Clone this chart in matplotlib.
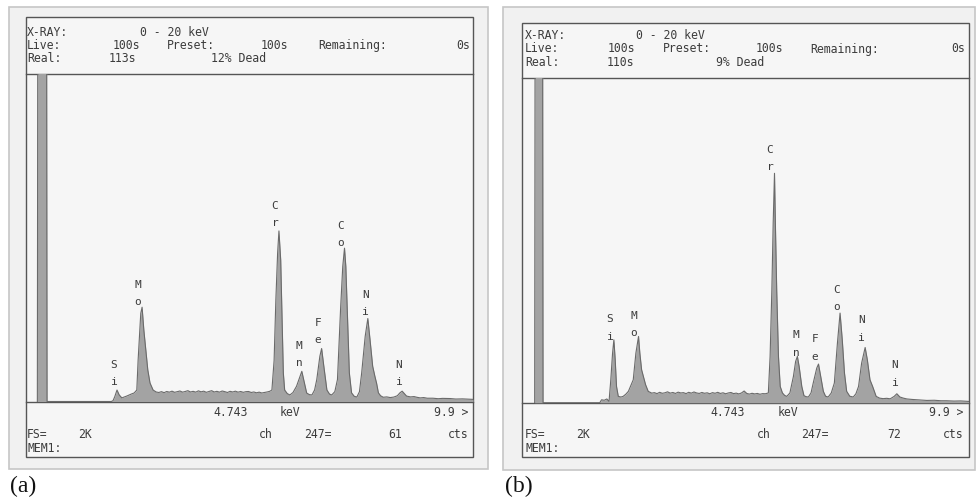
import matplotlib
matplotlib.use("Agg")
import matplotlib.pyplot as plt
from matplotlib.patches import Rectangle

# ---------------- data ----------------
# Panel (a) spectrum: energy (keV) and counts (full scale 2K)
kev_a = [-0.06, -0.05, 0.15, 0.16,
         1.62, 1.66, 1.70, 1.75, 1.80, 1.86, 1.92, 1.97, 2.03, 2.08, 2.14,
         2.20, 2.23, 2.29, 2.32, 2.36, 2.41, 2.45, 2.50, 2.57, 2.64,
         2.70, 2.76, 2.82, 2.88, 2.94, 3.00, 3.06, 3.12, 3.18, 3.24, 3.30,
         3.36, 3.42, 3.48, 3.54, 3.60, 3.66, 3.72, 3.78, 3.84, 3.90, 3.96,
         4.02, 4.08, 4.14, 4.20, 4.26, 4.32, 4.38, 4.44, 4.50, 4.56, 4.62,
         4.68, 4.74, 4.80, 4.86, 4.92, 4.98, 5.04, 5.10, 5.16, 5.22,
         5.27, 5.32, 5.36, 5.40, 5.43, 5.47, 5.50, 5.53, 5.56, 5.62, 5.68, 5.75,
         5.83, 5.91, 5.95, 6.00, 6.06, 6.12, 6.18, 6.24,
         6.29, 6.36, 6.40, 6.45, 6.52, 6.58, 6.63, 6.70,
         6.76, 6.83, 6.88, 6.92, 6.95, 6.99, 7.03, 7.08, 7.14, 7.20, 7.26,
         7.31, 7.39, 7.45, 7.50, 7.56, 7.61, 7.65, 7.69, 7.74, 7.80, 7.88,
         7.96, 8.04, 8.12,
         8.18, 8.23, 8.28, 8.33, 8.42, 8.50, 8.56, 8.64, 8.72, 8.80, 8.93,
         9.05, 9.15, 9.32, 9.45, 9.60, 9.77, 9.84]
cts_a = [0, 2500, 2500, 0,
         0, 5, 30, 70, 40, 22, 28, 33, 40, 46, 52,
         70, 253, 538, 575, 435, 301, 192, 113, 70, 58,
         55, 60, 54, 61, 57, 63, 56, 60, 64, 57, 61,
         66, 58, 62, 57, 65, 59, 63, 56, 61, 66, 58,
         62, 57, 64, 60, 55, 62, 58, 63, 57, 61, 56,
         60, 61, 55, 58, 53, 57, 52, 55, 58, 62,
         70, 250, 620, 905, 1040, 863, 514, 173, 70, 48, 40, 55,
         93, 154, 184, 123, 52, 42, 40, 70,
         134, 276, 323, 215, 70, 45, 40, 60,
         134, 560, 823, 935, 823, 499, 174, 53, 32, 27, 60,
         174, 397, 506, 377, 215, 154, 110, 53, 35, 26, 28,
         24, 27, 35,
         53, 63, 48, 33, 28, 30, 26, 22, 24, 20, 20,
         17, 19, 18, 15, 16, 14, 13]

# Panel (b) spectrum
kev_b = [-0.03, -0.02, 0.15, 0.16,
         1.45, 1.49, 1.55, 1.61, 1.66, 1.70, 1.74, 1.77, 1.80, 1.83, 1.87,
         1.93, 1.98, 2.04, 2.10, 2.21, 2.27, 2.33, 2.36, 2.40, 2.44, 2.49,
         2.55, 2.63,
         2.69, 2.75, 2.81, 2.87, 2.93, 2.99, 3.05, 3.11, 3.17, 3.23, 3.29,
         3.35, 3.41, 3.47, 3.53, 3.59, 3.65, 3.71, 3.77, 3.83, 3.89, 3.95,
         4.01, 4.07, 4.13, 4.19, 4.25, 4.31, 4.37, 4.43, 4.49, 4.55, 4.61,
         4.67, 4.73, 4.79, 4.85, 4.91, 4.97, 5.03, 5.09, 5.15, 5.21,
         5.28, 5.32, 5.36, 5.39, 5.42, 5.44, 5.47, 5.51, 5.55, 5.60, 5.65, 5.70,
         5.77, 5.85, 5.90, 5.94, 5.98, 6.04, 6.09, 6.14, 6.19, 6.25,
         6.30, 6.38, 6.42, 6.47, 6.53, 6.58, 6.64, 6.71,
         6.78, 6.85, 6.91, 6.96, 7.01, 7.06, 7.13, 7.21, 7.27,
         7.33, 7.40, 7.48, 7.53, 7.59, 7.65, 7.73, 7.81, 7.89, 7.97, 8.05,
         8.14, 8.20, 8.27, 8.35, 8.43, 8.55, 8.70, 8.88, 9.05, 9.20, 9.33,
         9.50, 9.65, 9.83]
cts_b = [0, 2500, 2500, 0,
         0, 18, 15, 23, 8, 141, 305, 387, 264, 100, 39,
         35, 39, 52, 70, 141, 305, 408, 305, 203, 162, 111,
         70, 59,
         62, 56, 64, 58, 61, 67, 59, 63, 57, 65, 60,
         62, 56, 64, 59, 66, 60, 57, 63, 58, 61, 55,
         62, 58, 64, 57, 61, 55, 60, 63, 56, 59, 54,
         60, 72, 57, 53, 58, 54, 57, 52, 56, 55,
         60, 285, 695, 1105, 1413, 1105, 695, 285, 100, 60, 45, 39,
         60, 162, 254, 285, 223, 100, 43, 37, 35, 60,
         121, 213, 238, 162, 70, 40, 35, 60,
         121, 367, 552, 387, 183, 70, 40, 35, 55,
         100, 244, 340, 264, 141, 100, 39, 28, 25, 27, 24,
         39, 55, 35, 28, 23, 20, 17, 14, 15, 12, 12,
         10, 11, 8]

# Element labels (upper letter, lower letter), energy and label height (counts)
elements = [("S", "i"), ("M", "o"), ("C", "r"), ("M", "n"),
            ("F", "e"), ("C", "o"), ("N", "i"), ("N", "i")]
label_kev_a = [1.68, 2.23, 5.34, 5.89, 6.32, 6.84, 7.39, 8.16]
label_cts_a = [119, 606, 1087, 234, 375, 965, 545, 119]
label_kev_b = [1.68, 2.23, 5.32, 5.91, 6.34, 6.84, 7.39, 8.16]
label_cts_b = [406, 430, 1451, 308, 283, 590, 400, 123]

full_scale = 2000
kev_range = (-0.318, 9.84)

# ---------------- figure ----------------
W, H = 980, 500
fig = plt.figure(figsize=(W / 100, H / 100), dpi=100)
fig.patch.set_facecolor("white")

bg = fig.add_axes([0, 0, 1, 1])
bg.set_xlim(0, W)
bg.set_ylim(H, 0)
bg.axis("off")

MONO = "DejaVu Sans Mono"
TXT = "#3c3c3c"
FS_TXT = 8.3


def txt(x, y, s, ha="center"):
    bg.text(x, y, s, ha=ha, va="center", family=MONO, fontsize=FS_TXT,
            color=TXT)


def panel(ox0, oy0, ox1, oy1, ix0, iy0, ix1, iy1, hdr_y, base_y):
    bg.add_patch(Rectangle((ox0, oy0), ox1 - ox0, oy1 - oy0,
                           facecolor="#f1f1f1", edgecolor="#c6c6c6", lw=1.2))
    bg.add_patch(Rectangle((ix0, iy0), ix1 - ix0, iy1 - iy0,
                           facecolor="#f6f6f6", edgecolor="#555555", lw=1.0))
    bg.plot([ix0, ix1], [hdr_y, hdr_y], color="#555555", lw=1.0)
    bg.plot([ix0, ix1], [base_y, base_y], color="#555555", lw=1.0)


# Panel (a) frames
panel(9, 7, 488, 469, 26, 17, 473, 457, 73.5, 401.5)
# Panel (b) frames
panel(503, 7, 975, 470, 522, 23, 969, 457, 78, 402.7)

# Header / footer texts, panel (a)
ya1, ya2, ya3 = 32, 45.5, 59
txt(27, ya1, "X-RAY:", ha="left")
txt(174, ya1, "0 - 20 keV")
txt(27, ya2, "Live:", ha="left")
txt(126, ya2, "100s")
txt(190.5, ya2, "Preset:")
txt(274, ya2, "100s")
txt(352.5, ya2, "Remaining:")
txt(470, ya2, "0s", ha="right")
txt(27, ya3, "Real:", ha="left")
txt(122.5, ya3, "113s")
txt(238.5, ya3, "12% Dead")
txt(231, 413, "4.743")
txt(290, 413, "keV")
txt(468, 413, "9.9 >", ha="right")
txt(27, 434.5, "FS=", ha="left")
txt(85, 434.5, "2K")
txt(266, 434.5, "ch")
txt(318, 434.5, "247=")
txt(395, 434.5, "61")
txt(468, 434.5, "cts", ha="right")
txt(27, 448.5, "MEM1:", ha="left")

# Header / footer texts, panel (b)
yb1, yb2, yb3 = 35.5, 49, 62.5
txt(525, yb1, "X-RAY:", ha="left")
txt(670, yb1, "0 - 20 keV")
txt(525, yb2, "Live:", ha="left")
txt(621.5, yb2, "100s")
txt(686.5, yb2, "Preset:")
txt(769, yb2, "100s")
txt(845, yb2, "Remaining:")
txt(965, yb2, "0s", ha="right")
txt(525, yb3, "Real:", ha="left")
txt(620, yb3, "110s")
txt(740, yb3, "9% Dead")
txt(728, 413, "4.743")
txt(787.5, 413, "keV")
txt(963, 413, "9.9 >", ha="right")
txt(525, 434.5, "FS=", ha="left")
txt(582.5, 434.5, "2K")
txt(764, 434.5, "ch")
txt(815, 434.5, "247=")
txt(894, 434.5, "72")
txt(963, 434.5, "cts", ha="right")
txt(525, 448.5, "MEM1:", ha="left")

# Panel captions
bg.text(10, 486, "(a)", ha="left", va="center", family="Liberation Serif",
        fontsize=17, color="#111111")
bg.text(505, 486, "(b)", ha="left", va="center", family="Liberation Serif",
        fontsize=17, color="#111111")


def spectrum_axes(x0, x1, ytop, ybot, kev, cts, lk, lc):
    ax = fig.add_axes([x0 / W, 1 - ybot / H, (x1 - x0) / W, (ybot - ytop) / H])
    ax.set_xlim(*kev_range)
    ax.set_ylim(0, full_scale)
    ax.patch.set_alpha(0)
    for s in ax.spines.values():
        s.set_visible(False)
    ax.set_xticks([])
    ax.set_yticks([])
    ax.fill_between(kev, cts, 0, color="#a3a3a3", lw=0)
    ax.plot(kev, cts, color="#6a6a6a", lw=0.8)
    for (up, lo), x, y in zip(elements, lk, lc):
        ax.text(x, y, lo, ha="center", va="center", family=MONO, fontsize=8,
                color=TXT)
        ax.annotate(up, (x, y), xytext=(0, 12.5), textcoords="offset points",
                    ha="center", va="center", family=MONO, fontsize=8,
                    color=TXT)
    return ax


spectrum_axes(26, 473, 73.5, 401.5, kev_a, cts_a, label_kev_a, label_cts_a)
spectrum_axes(522, 969, 78, 402.7, kev_b, cts_b, label_kev_b, label_cts_b)

fig.savefig("out.png", dpi=100, facecolor=fig.get_facecolor())
